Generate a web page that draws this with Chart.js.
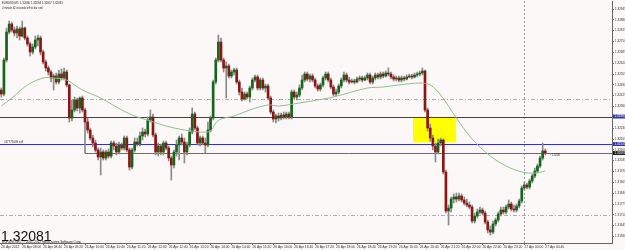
<!DOCTYPE html>
<html>
<head>
<meta charset="utf-8">
<script src="https://cdn.jsdelivr.net/npm/chart.js@4"></script>
<style>
  html, body { margin: 0; padding: 0; background: #fcf8f7; }
  #wrap { width: 625px; height: 250px; }
</style>
</head>
<body>
<div id="wrap"><canvas id="grafico" width="625" height="250"></canvas></div>
<script>
// EURUSD M5, 26 Apr 2012 07:20 -> 27 Apr 00:40 (209 bars), plus empty shift space on the right
const barCount = 234;

const timeLabels = ["26 Apr 2012", "26 Apr 08:00", "26 Apr 08:40", "26 Apr 09:20", "26 Apr 10:00",
  "26 Apr 10:40", "26 Apr 11:20", "26 Apr 12:00", "26 Apr 12:40", "26 Apr 13:20", "26 Apr 14:00",
  "26 Apr 14:40", "26 Apr 15:20", "26 Apr 16:00", "26 Apr 16:40", "26 Apr 17:20", "26 Apr 18:00",
  "26 Apr 18:40", "26 Apr 19:20", "26 Apr 20:00", "26 Apr 20:40", "26 Apr 21:20", "26 Apr 22:00",
  "26 Apr 22:40", "26 Apr 23:20", "27 Apr 00:00", "27 Apr 00:40"];

const opens = [
  1.32459,1.32435,1.32639,1.32807,1.32855,1.32819,1.32801,1.32825,1.32783,1.32831,
  1.32771,1.32735,1.32687,1.32717,1.32759,1.32771,1.32687,1.32627,1.32591,1.32567,
  1.32531,1.32543,1.32507,1.32555,1.32531,1.32567,1.32489,1.32291,1.32339,1.32399,
  1.32351,1.32411,1.32339,1.32267,1.32219,1.32171,1.32141,1.32099,1.32057,1.32087,
  1.32051,1.32087,1.32063,1.32141,1.32123,1.32087,1.32129,1.32111,1.32171,1.32099,
  1.31997,1.32099,1.32147,1.32135,1.32183,1.32207,1.32195,1.32279,1.32297,1.32189,
  1.32087,1.32123,1.32087,1.32141,1.32111,1.32051,1.32009,1.32087,1.32129,1.32171,
  1.32147,1.32087,1.32129,1.32207,1.32315,1.32231,1.32141,1.32171,1.32141,1.32129,
  1.32219,1.32291,1.32507,1.32639,1.32747,1.32639,1.32591,1.32603,1.32543,1.32567,
  1.32579,1.32507,1.32447,1.32405,1.32435,1.32417,1.32471,1.32519,1.32537,1.32471,
  1.32519,1.32471,1.32483,1.32411,1.32327,1.32285,1.32303,1.32291,1.32309,1.32297,
  1.32315,1.32297,1.32447,1.32417,1.32429,1.32471,1.32519,1.32555,1.32525,1.32543,
  1.32519,1.32483,1.32465,1.32489,1.32531,1.32555,1.32519,1.32477,1.32435,1.32447,
  1.32483,1.32519,1.32549,1.32519,1.32507,1.32513,1.32507,1.32525,1.32531,1.32519,
  1.32531,1.32549,1.32507,1.32531,1.32549,1.32537,1.32555,1.32543,1.32561,1.32555,
  1.32537,1.32525,1.32531,1.32519,1.32531,1.32525,1.32537,1.32543,1.32537,1.32549,
  1.32555,1.32561,1.32573,1.32339,1.32231,1.32171,1.32123,1.32087,1.32141,1.32159,
  1.31967,1.31733,1.31751,1.31805,1.31817,1.31805,1.31823,1.31799,1.31781,1.31769,
  1.31757,1.31673,1.31703,1.31727,1.31739,1.31721,1.31667,1.31619,1.31607,1.31655,
  1.31679,1.31715,1.31739,1.31727,1.31757,1.31775,1.31745,1.31739,1.31763,1.31793,
  1.31871,1.31889,1.31877,1.31913,1.31943,1.31973,1.32003,1.32051,1.32093
];
const highs = [
  1.32471,1.32651,1.32831,1.32873,1.32867,1.32837,1.32843,1.32837,1.32873,1.32837,
  1.32783,1.32747,1.32735,1.32783,1.32789,1.32783,1.32699,1.32639,1.32603,1.32579,
  1.32555,1.32561,1.32579,1.32585,1.32591,1.32579,1.32495,1.32399,1.32417,1.32411,
  1.32417,1.32423,1.32351,1.32291,1.32231,1.32189,1.32159,1.32111,1.32111,1.32099,
  1.32099,1.32105,1.32153,1.32153,1.32141,1.32147,1.32141,1.32183,1.32183,1.32111,
  1.32111,1.32171,1.32171,1.32207,1.32231,1.32225,1.32297,1.32339,1.32315,1.32201,
  1.32141,1.32135,1.32153,1.32153,1.32123,1.32063,1.32099,1.32159,1.32183,1.32195,
  1.32171,1.32147,1.32231,1.32351,1.32327,1.32243,1.32183,1.32183,1.32171,1.32267,
  1.32303,1.32519,1.32651,1.32789,1.32771,1.32651,1.32627,1.32615,1.32579,1.32591,
  1.32591,1.32519,1.32471,1.32447,1.32447,1.32483,1.32531,1.32549,1.32549,1.32531,
  1.32531,1.32495,1.32495,1.32423,1.32339,1.32315,1.32321,1.32321,1.32327,1.32327,
  1.32327,1.32459,1.32459,1.32447,1.32489,1.32549,1.32567,1.32567,1.32555,1.32555,
  1.32531,1.32495,1.32501,1.32543,1.32567,1.32567,1.32531,1.32489,1.32465,1.32495,
  1.32531,1.32567,1.32561,1.32537,1.32525,1.32525,1.32537,1.32543,1.32543,1.32543,
  1.32561,1.32561,1.32543,1.32561,1.32561,1.32567,1.32567,1.32573,1.32591,1.32567,
  1.32549,1.32543,1.32543,1.32543,1.32543,1.32549,1.32555,1.32555,1.32561,1.32567,
  1.32573,1.32591,1.32579,1.32351,1.32255,1.32189,1.32141,1.32165,1.32171,1.32165,
  1.31979,1.31769,1.31817,1.31835,1.31841,1.31841,1.31835,1.31817,1.31805,1.31787,
  1.31769,1.31721,1.31745,1.31757,1.31751,1.31733,1.31679,1.31643,1.31673,1.31691,
  1.31727,1.31757,1.31757,1.31769,1.31799,1.31787,1.31769,1.31775,1.31805,1.31883,
  1.31907,1.31901,1.31925,1.31955,1.31991,1.32015,1.32063,1.32141,1.32105
];
const lows = [
  1.32417,1.32423,1.32627,1.32795,1.32807,1.32783,1.32771,1.32759,1.32777,1.32759,
  1.32723,1.32663,1.32675,1.32705,1.32723,1.32669,1.32615,1.32573,1.32549,1.32507,
  1.32459,1.32495,1.32495,1.32519,1.32519,1.32477,1.32267,1.32273,1.32327,1.32333,
  1.32321,1.32327,1.32081,1.32201,1.32159,1.32117,1.32087,1.32039,1.31949,1.32039,
  1.32039,1.32051,1.32051,1.32099,1.32069,1.32075,1.32099,1.32099,1.32087,1.31979,
  1.31985,1.32087,1.32123,1.32123,1.32159,1.32177,1.32183,1.32267,1.32177,1.32069,
  1.32063,1.32069,1.32069,1.32099,1.32033,1.31919,1.31991,1.32063,1.32039,1.32129,
  1.32021,1.32069,1.32117,1.32195,1.32219,1.32129,1.32123,1.32129,1.32081,1.32117,
  1.32207,1.32279,1.32495,1.32627,1.32627,1.32567,1.32411,1.32531,1.32531,1.32549,
  1.32495,1.32429,1.32393,1.32399,1.32405,1.32387,1.32459,1.32507,1.32459,1.32459,
  1.32459,1.32447,1.32399,1.32315,1.32267,1.32261,1.32273,1.32279,1.32285,1.32285,
  1.32285,1.32285,1.32405,1.32399,1.32417,1.32459,1.32507,1.32513,1.32507,1.32507,
  1.32471,1.32453,1.32453,1.32477,1.32519,1.32507,1.32465,1.32423,1.32423,1.32435,
  1.32471,1.32507,1.32507,1.32495,1.32501,1.32495,1.32501,1.32513,1.32507,1.32513,
  1.32519,1.32495,1.32495,1.32519,1.32525,1.32525,1.32531,1.32537,1.32543,1.32525,
  1.32513,1.32513,1.32507,1.32507,1.32513,1.32519,1.32531,1.32525,1.32531,1.32537,
  1.32543,1.32549,1.32327,1.32213,1.32153,1.32099,1.32027,1.32075,1.32123,1.31955,
  1.31721,1.31649,1.31727,1.31781,1.31787,1.31793,1.31787,1.31769,1.31757,1.31745,
  1.31661,1.31661,1.31691,1.31715,1.31709,1.31655,1.31601,1.31589,1.31595,1.31643,
  1.31667,1.31703,1.31715,1.31715,1.31745,1.31733,1.31727,1.31727,1.31751,1.31781,
  1.31859,1.31865,1.31865,1.31901,1.31931,1.31961,1.31991,1.32039,1.32069
];
const closes = [
  1.32435,1.32639,1.32807,1.32855,1.32819,1.32801,1.32825,1.32783,1.32831,1.32771,
  1.32735,1.32687,1.32717,1.32759,1.32771,1.32687,1.32627,1.32591,1.32567,1.32531,
  1.32543,1.32507,1.32555,1.32531,1.32567,1.32489,1.32291,1.32339,1.32399,1.32351,
  1.32411,1.32339,1.32267,1.32219,1.32171,1.32141,1.32099,1.32057,1.32087,1.32051,
  1.32087,1.32063,1.32141,1.32123,1.32087,1.32129,1.32111,1.32171,1.32099,1.31997,
  1.32099,1.32147,1.32135,1.32183,1.32207,1.32195,1.32279,1.32297,1.32189,1.32087,
  1.32123,1.32087,1.32141,1.32111,1.32051,1.32009,1.32087,1.32129,1.32171,1.32147,
  1.32087,1.32129,1.32207,1.32315,1.32231,1.32141,1.32171,1.32141,1.32129,1.32219,
  1.32291,1.32507,1.32639,1.32747,1.32639,1.32591,1.32603,1.32543,1.32567,1.32579,
  1.32507,1.32447,1.32405,1.32435,1.32417,1.32471,1.32519,1.32537,1.32471,1.32519,
  1.32471,1.32483,1.32411,1.32327,1.32285,1.32303,1.32291,1.32309,1.32297,1.32315,
  1.32297,1.32447,1.32417,1.32429,1.32471,1.32519,1.32555,1.32525,1.32543,1.32519,
  1.32483,1.32465,1.32489,1.32531,1.32555,1.32519,1.32477,1.32435,1.32447,1.32483,
  1.32519,1.32549,1.32519,1.32507,1.32513,1.32507,1.32525,1.32531,1.32519,1.32531,
  1.32549,1.32507,1.32531,1.32549,1.32537,1.32555,1.32543,1.32561,1.32555,1.32537,
  1.32525,1.32531,1.32519,1.32531,1.32525,1.32537,1.32543,1.32537,1.32549,1.32555,
  1.32561,1.32573,1.32339,1.32231,1.32171,1.32123,1.32087,1.32141,1.32159,1.31967,
  1.31733,1.31751,1.31805,1.31817,1.31805,1.31823,1.31799,1.31781,1.31769,1.31757,
  1.31673,1.31703,1.31727,1.31739,1.31721,1.31667,1.31619,1.31607,1.31655,1.31679,
  1.31715,1.31739,1.31727,1.31757,1.31775,1.31745,1.31739,1.31763,1.31793,1.31871,
  1.31889,1.31877,1.31913,1.31943,1.31973,1.32003,1.32051,1.32093,1.32081
];

// moving average at a few bars
const maBars = [0, 4, 10, 16, 20, 25, 31, 38, 44, 50, 57, 63, 70, 76, 80, 82, 84, 89, 95, 102,
  106, 114, 121, 127, 134, 140, 146, 152, 160, 164, 168, 174, 180, 187, 193, 199, 204, 208];
const maValues = [1.32363, 1.32411, 1.32489, 1.32531, 1.32531, 1.32519, 1.32459, 1.32411, 1.32357,
  1.32309, 1.32273, 1.32243, 1.32219, 1.32207, 1.32213, 1.32261, 1.32285, 1.32303, 1.32339, 1.32369,
  1.32363, 1.32381, 1.32399, 1.32417, 1.32447, 1.32471, 1.32477, 1.32489, 1.32501, 1.32489, 1.32429,
  1.32291, 1.32165, 1.32063, 1.32003, 1.31967, 1.31961, 1.31973];

const yTicks = [1.32945, 1.32880, 1.32815, 1.32750, 1.32685, 1.32620, 1.32555, 1.32490, 1.32425,
  1.32360, 1.32295, 1.32230, 1.32165, 1.32100, 1.32035, 1.31970, 1.31905, 1.31840, 1.31775,
  1.31710, 1.31645, 1.31580];
const yMin = 1.31541, yMax = 1.32993;

// objects on the chart
const bid = 1.32081;
const blueLevels = [1.32300, 1.32135];
const dashLevels = [1.32405, 1.31709];
const grayLevel = 1.32081, grayFrom = 32;
const daySeparator = 200;
const zone = { fromBar: 157.4, toBar: 173.9, top: 1.32295, bottom: 1.32145 };

const bull = "#17651a", bear = "#8e1414";

const labels = Array.from({ length: barCount }, (_, i) => String(i));
const maLine = labels.map(() => null);
maBars.forEach((b, k) => { maLine[b] = maValues[k]; });
const bodyColors = closes.map((c, i) => c >= opens[i] ? bull : bear);

const overlay = {
  id: "overlay",
  beforeDatasetsDraw(chart) {
    const { ctx: c, chartArea: a, scales: { x, y } } = chart;
    c.save();
    // yellow zone
    const x1 = x.getPixelForValue(zone.fromBar), x2 = x.getPixelForValue(zone.toBar);
    const y1 = y.getPixelForValue(zone.top), y2 = y.getPixelForValue(zone.bottom);
    c.fillStyle = "#ffff00";
    c.fillRect(x1, y1, x2 - x1, y2 - y1);

    // day separator
    const xs = Math.round(x.getPixelForValue(daySeparator)) + 0.5;
    c.strokeStyle = "#9a9a9a";
    c.lineWidth = 1;
    c.setLineDash([2, 2]);
    c.beginPath(); c.moveTo(xs, a.top); c.lineTo(xs, a.bottom); c.stroke();

    // dash-dot levels
    c.strokeStyle = "#c9a3a3";
    c.setLineDash([4, 2, 1, 2]);
    dashLevels.forEach(v => {
      const py = Math.round(y.getPixelForValue(v)) + 0.5;
      c.beginPath(); c.moveTo(a.left, py); c.lineTo(a.right, py); c.stroke();
    });
    c.setLineDash([]);

    // gray ray
    const gy = Math.round(y.getPixelForValue(grayLevel)) + 0.5;
    c.strokeStyle = "#6e6e6e";
    c.beginPath(); c.moveTo(x.getPixelForValue(grayFrom), gy); c.lineTo(a.right, gy); c.stroke();

    // blue order levels
    c.strokeStyle = "#3434b4";
    blueLevels.forEach(v => {
      const py = Math.round(y.getPixelForValue(v)) + 0.5;
      c.beginPath(); c.moveTo(a.left, py); c.lineTo(a.right, py); c.stroke();
    });
    c.restore();
  },
  afterDraw(chart) {
    const { ctx: c, chartArea: a, scales: { x, y } } = chart;
    c.save();
    c.fillStyle = "#222";
    c.textBaseline = "top";
    c.font = '2.8px "Liberation Sans"';
    c.fillText("EURUSD,M5  1.32080 1.32094 1.32057 1.32081", 2, 2);
    c.font = '2.6px "Liberation Sans"';
    c.fillText("0 minute 42 seconds left to bar end", 2, 6.5);

    c.textBaseline = "alphabetic";
    c.font = '2.8px "Liberation Sans"';
    c.fillText("#47771009 sell", 4, y.getPixelForValue(blueLevels[1]) - 1);
    c.font = '2.6px "Liberation Sans"';
    c.fillText("\u2039 1.3208", x.getPixelForValue(208) + 5, y.getPixelForValue(bid) + 3);

    c.fillStyle = "#111";
    c.font = '14px "Liberation Sans"';
    c.fillText("1.32081", 1, 240.5);
    c.font = '3.2px "Liberation Sans"';
    c.fillText("EURUSD,M5, \u00a9 2001-2012 MetaQuotes Software Corp.", 2, 243);

    // price markers on the axis
    const marks = [[blueLevels[0], "#3434b4"], [blueLevels[1], "#3434b4"], [bid, "#1e1e1e"]];
    c.font = '3px "Liberation Sans"';
    c.textBaseline = "middle";
    marks.forEach(([v, col]) => {
      const py = y.getPixelForValue(v);
      c.fillStyle = col;
      c.fillRect(a.right + 1, py - 2, 12, 4);
      c.fillStyle = "#fff";
      c.fillText(v.toFixed(5), a.right + 2.5, py);
    });
    c.restore();
  }
};

new Chart(document.getElementById("grafico").getContext("2d"), {
  type: "bar",
  data: {
    labels,
    datasets: [
      {
        type: "line", data: maLine, borderColor: "#8fbf8f", borderWidth: 1,
        pointRadius: 0, spanGaps: true, tension: 0.35, order: 0
      },
      {
        data: opens.map((o, i) => [o, closes[i]]), backgroundColor: bodyColors,
        barThickness: 2, minBarLength: 1, grouped: false, order: 1
      },
      {
        data: lows.map((l, i) => [l, highs[i]]), backgroundColor: "#8a8a8a",
        barThickness: 1, grouped: false, order: 2
      }
    ]
  },
  options: {
    responsive: false,
    animation: false,
    devicePixelRatio: 1,
    layout: { padding: { top: 1, left: 0, right: 0, bottom: 0 } },
    plugins: { legend: { display: false }, tooltip: { enabled: false } },
    scales: {
      x: {
        offset: true,
        grid: {
          drawOnChartArea: false, offset: false, tickLength: 2,
          color: ctx => (ctx.index % 8 === 0 && ctx.index <= 208) ? "#777" : "rgba(0,0,0,0)"
        },
        border: { color: "#666" },
        ticks: {
          autoSkip: false, maxRotation: 0, minRotation: 0, align: "start", padding: 0,
          color: "#333", font: { size: 3.3, family: "Liberation Sans" },
          callback: (v, i) => (i % 8 === 0 && timeLabels[i / 8]) ? timeLabels[i / 8] : ""
        },
        afterFit(s) { s.height = 7; s.paddingLeft = 0; s.paddingRight = 0; }
      },
      y: {
        position: "right",
        min: yMin,
        max: yMax,
        grid: { drawOnChartArea: false, tickLength: 2, color: "#777" },
        border: { color: "#666" },
        ticks: {
          padding: 1, color: "#333", font: { size: 3, family: "Liberation Sans" },
          callback: v => v.toFixed(5)
        },
        afterBuildTicks(s) { s.ticks = yTicks.map(v => ({ value: v })); },
        afterFit(s) { s.width = 13; s.paddingTop = 0; s.paddingBottom = 0; }
      }
    }
  },
  plugins: [overlay]
});
</script>
</body>
</html>
